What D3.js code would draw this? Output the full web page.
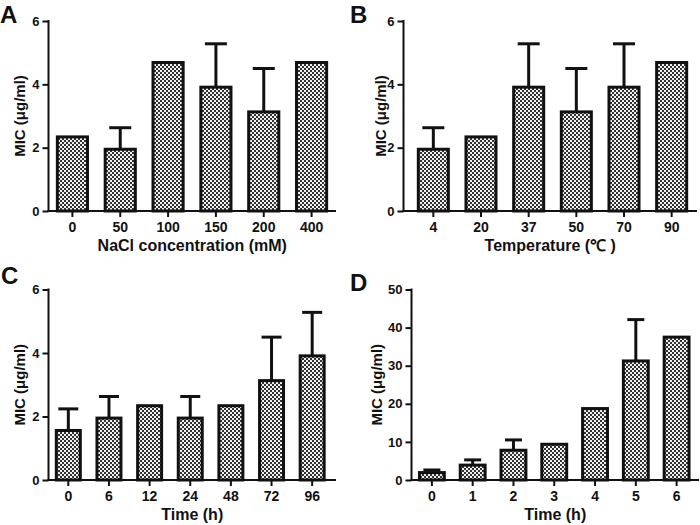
<!DOCTYPE html>
<html><head><meta charset="utf-8">
<script src="https://cdn.jsdelivr.net/npm/d3@7"></script>
<style>body{margin:0;background:#fff}</style>
</head><body>
<svg id="c" width="700" height="525"></svg>
<script>
// ---- data ----
const catsA = ["0","50","100","150","200","400"];
const valsA = [2.34,1.95,4.69,3.91,3.13,4.69];
const errA  = [0,0.68,0,1.37,1.37,0];
const catsB = ["4","20","37","50","70","90"];
const valsB = [1.95,2.34,3.91,3.13,3.91,4.69];
const errB  = [0.68,0,1.37,1.37,1.37,0];
const catsC = ["0","6","12","24","48","72","96"];
const valsC = [1.56,1.95,2.34,1.95,2.34,3.13,3.91];
const errC  = [0.68,0.68,0,0.68,0,1.37,1.37];
const catsD = ["0","1","2","3","4","5","6"];
const valsD = [1.95,3.91,7.81,9.38,18.75,31.25,37.5];
const errD  = [0.68,1.37,2.71,0,0,10.85,0];
const ticksABC = [0,2,4,6];
const ticksD = [0,10,20,30,40,50];
const yTitle = "MIC (\u03bcg/ml)";
const xTitles = ["NaCl concentration (mM)","Temperature (\u2103 )","Time (h)","Time (h)"];
const letters = ["A","B","C","D"];

const svg = d3.select("#c");
const defs = svg.append("defs");
const pat = defs.append("pattern").attr("id","chk").attr("patternUnits","userSpaceOnUse")
  .attr("width",4).attr("height",4);
pat.append("rect").attr("width",4).attr("height",4).attr("fill","#f0f0f0");
pat.append("rect").attr("x",0).attr("y",0).attr("width",2).attr("height",2).attr("fill","#333");
pat.append("rect").attr("x",2).attr("y",2).attr("width",2).attr("height",2).attr("fill","#333");

const FONT = "'Liberation Sans', Arial, sans-serif";

const panels = [
  {cats:catsA, vals:valsA, err:errA, ticks:ticksABC, max:6, ax:48.5, b0:48.5, b1:335.5, yb:211, yt:21, pad:0.37, cap:22, letter:{x:0,y:23}, ylx:25, axEnd:336},
  {cats:catsB, vals:valsB, err:errB, ticks:ticksABC, max:6, ax:403.5, b0:409.5, b1:695.5, yb:211, yt:21, pad:0.37, cap:22, letter:{x:350,y:23}, ylx:386, axEnd:697},
  {cats:catsC, vals:valsC, err:errC, ticks:ticksABC, max:6, ax:48.5, b0:48, b1:332.5, yb:480, yt:289.5, pad:0.41, cap:20, letter:{x:1,y:284}, ylx:25, axEnd:336},
  {cats:catsD, vals:valsD, err:errD, ticks:ticksD, max:50, ax:411.5, b0:411.5, b1:697, yb:480, yt:289.5, pad:0.39, cap:17, letter:{x:350,y:291}, ylx:382, axEnd:699}
];

panels.forEach((p,i)=>{
  const g = svg.append("g");
  const x = d3.scaleBand().domain(p.cats).range([p.b0,p.b1]).paddingInner(p.pad).paddingOuter(p.pad/2);
  const y = d3.scaleLinear().domain([0,p.max]).range([p.yb,p.yt]);

  // error bars (upper only)
  p.cats.forEach((c,j)=>{
    if(p.err[j]>0){
      const cx = x(c)+x.bandwidth()/2;
      g.append("line").attr("x1",cx).attr("x2",cx).attr("y1",y(p.vals[j])).attr("y2",y(p.vals[j]+p.err[j]))
        .attr("stroke","#111").attr("stroke-width",3);
      g.append("line").attr("x1",cx-p.cap/2).attr("x2",cx+p.cap/2).attr("y1",y(p.vals[j]+p.err[j])).attr("y2",y(p.vals[j]+p.err[j]))
        .attr("stroke","#111").attr("stroke-width",3);
    }
  });
  // bars
  g.selectAll("rect.bar").data(p.cats).enter().append("rect").attr("class","bar")
    .attr("x",c=>x(c)).attr("width",x.bandwidth())
    .attr("y",(c,j)=>y(p.vals[j])).attr("height",(c,j)=>p.yb-y(p.vals[j]))
    .attr("fill","url(#chk)").attr("stroke","#111").attr("stroke-width",3);

  // y axis
  const yAx = d3.axisLeft(y).tickValues(p.ticks).tickSize(6).tickPadding(3).tickFormat(d3.format("d"));
  const ya = g.append("g").attr("transform",`translate(${p.ax},0)`).call(yAx);
  ya.select(".domain").remove();
  ya.selectAll(".tick line").attr("stroke","#111").attr("stroke-width",2);
  ya.selectAll("text").attr("font-family",FONT).attr("font-weight","bold").attr("font-size",13).attr("fill","#111");
  g.append("line").attr("x1",p.ax).attr("x2",p.ax).attr("y1",p.yt-1).attr("y2",p.yb+1).attr("stroke","#111").attr("stroke-width",2);

  // x axis
  const xAx = d3.axisBottom(x).tickSize(6).tickPadding(5);
  const xa = g.append("g").attr("transform",`translate(0,${p.yb})`).call(xAx);
  xa.select(".domain").remove();
  xa.selectAll(".tick line").attr("stroke","#111").attr("stroke-width",2);
  xa.selectAll("text").attr("font-family",FONT).attr("font-weight","bold").attr("font-size",14).attr("fill","#111");
  g.append("line").attr("x1",p.ax-1).attr("x2",p.axEnd).attr("y1",p.yb).attr("y2",p.yb).attr("stroke","#111").attr("stroke-width",2);

  // titles
  g.append("text").attr("x",(p.ax+p.axEnd)/2).attr("y",p.yb+40).attr("text-anchor","middle")
    .attr("font-family",FONT).attr("font-weight","bold").attr("font-size",16).attr("fill","#111").text(xTitles[i]);
  g.append("text").attr("transform",`translate(${p.ylx},${(p.yt+p.yb)/2}) rotate(-90)`).attr("text-anchor","middle")
    .attr("font-family",FONT).attr("font-weight","bold").attr("font-size",15).attr("fill","#111").text(yTitle);
  g.append("text").attr("x",p.letter.x).attr("y",p.letter.y)
    .attr("font-family",FONT).attr("font-weight","bold").attr("font-size",24).attr("fill","#111").text(letters[i]);
});
</script>
</body></html>
